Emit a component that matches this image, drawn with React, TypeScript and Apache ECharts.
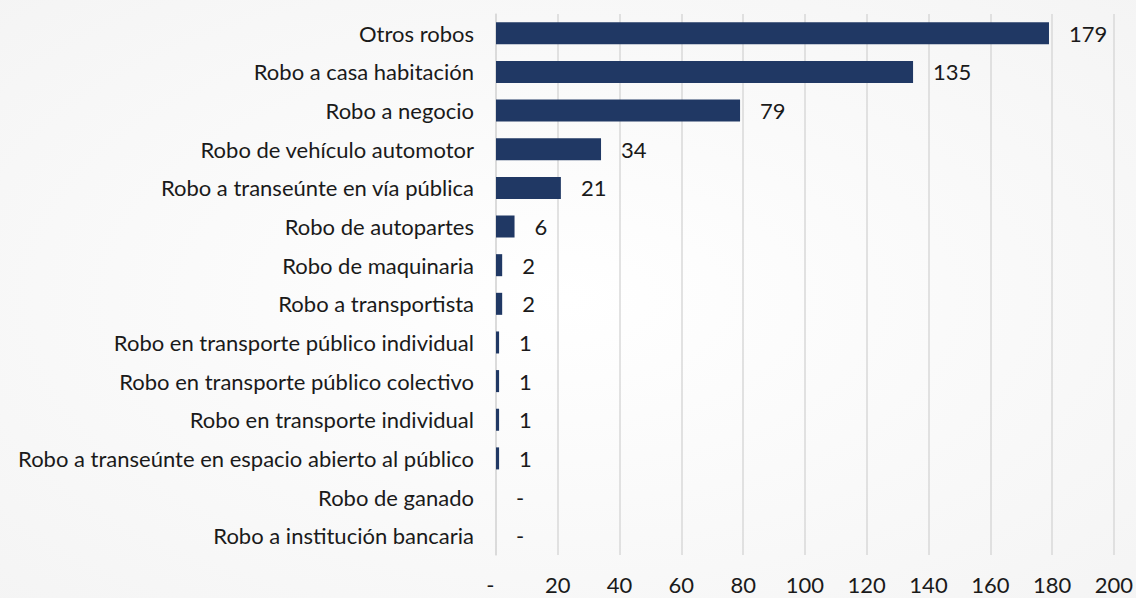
import React, { useEffect, useRef } from "react";
import * as echarts from "echarts";

const categories = [
  "Otros robos",
  "Robo a casa habitación",
  "Robo a negocio",
  "Robo de vehículo automotor",
  "Robo a transeúnte en vía pública",
  "Robo de autopartes",
  "Robo de maquinaria",
  "Robo a transportista",
  "Robo en transporte público individual",
  "Robo en transporte público colectivo",
  "Robo en transporte individual",
  "Robo a transeúnte en espacio abierto al público",
  "Robo de ganado",
  "Robo a institución bancaria",
];

const values = [179, 135, 79, 34, 21, 6, 2, 2, 1, 1, 1, 1, 0, 0];

const FONT = "Lato";
const FS = 22;

export default function App() {
  const ref = useRef<HTMLDivElement>(null);
  useEffect(() => {
    document.body.style.margin = "0";
    document.body.style.overflow = "hidden";
    if (!ref.current) return;
    const chart = echarts.init(ref.current, undefined, { renderer: "svg" });
    chart.setOption({
      animation: false,
      backgroundColor: {
        type: "radial",
        x: 0.5,
        y: 0.5,
        r: 0.8,
        colorStops: [
          { offset: 0, color: "#ffffff" },
          { offset: 1, color: "#f3f3f3" },
        ],
      },
      grid: { left: 496, right: 20, top: 14, bottom: 43, containLabel: false },
      xAxis: {
        type: "value",
        min: 0,
        max: 200,
        interval: 20,
        axisLine: { show: false },
        axisTick: { show: false },
        splitLine: { show: true, lineStyle: { color: "#d9d9d9", width: 1.5 } },
        axisLabel: {
          margin: 18,
          fontFamily: FONT,
          fontSize: FS,
          color: "#1a1a1a",
          formatter: (v: number) => (v === 0 ? "-  " : String(v)),
        },
      },
      yAxis: {
        type: "category",
        inverse: true,
        data: categories,
        axisLine: { show: true, lineStyle: { color: "#d9d9d9", width: 1.5 } },
        axisTick: { show: false },
        axisLabel: {
          margin: 22,
          fontFamily: FONT,
          fontSize: FS,
          color: "#1a1a1a",
        },
      },
      series: [
        {
          type: "bar",
          data: values,
          barCategoryGap: "43%",
          itemStyle: { color: "#203864" },
          label: {
            show: true,
            position: "right",
            distance: 20,
            fontFamily: FONT,
            fontSize: FS,
            color: "#1a1a1a",
            formatter: (p: any) => (p.value === 0 ? "-" : String(p.value)),
          },
        },
      ],
    });
    return () => chart.dispose();
  }, []);
  return <div ref={ref} style={{ width: 1136, height: 598 }} />;
}
